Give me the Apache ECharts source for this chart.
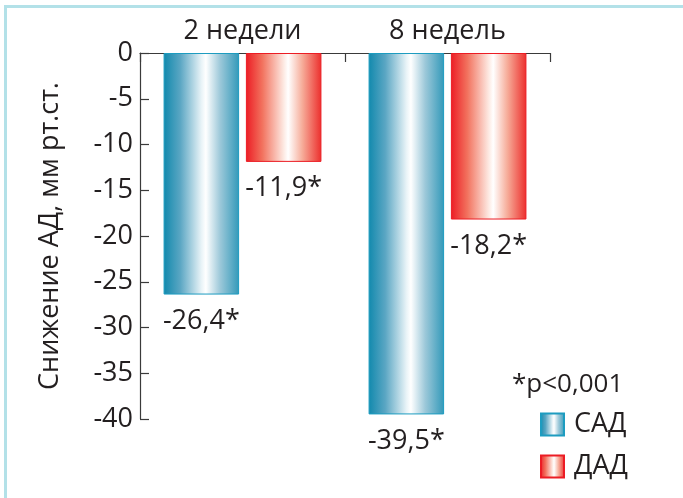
<!DOCTYPE html>
<html>
<head>
<meta charset="utf-8">
<script src="https://cdn.jsdelivr.net/npm/echarts@6/dist/echarts.min.js"></script>
<style>
html,body{margin:0;padding:0;background:#fff;}
#c{width:683px;height:498px;}
</style>
</head>
<body>
<div id="c"></div>
<script>
const categories = ['2 недели', '8 недель'];
const sadValues = [-26.4, -39.5];
const dadValues = [-11.9, -18.2];
const seriesNames = ['САД', 'ДАД'];
const yTicks = { min: -40, max: 0, interval: 5 };
const note = '*p<0,001';
const yName = 'Снижение АД, мм рт.ст.';

const FONT = 'Open Sans';
const TXT = '#231f20';

const blueGrad = new echarts.graphic.LinearGradient(0, 0, 1, 0, [
  { offset: 0, color: '#1189ad' },
  { offset: 0.22, color: '#5aa6c3' },
  { offset: 0.5, color: '#e8f3f7' },
  { offset: 0.56, color: '#ffffff' },
  { offset: 0.75, color: '#9cc8d9' },
  { offset: 1, color: '#3299b9' }
]);
const redGrad = new echarts.graphic.LinearGradient(0, 0, 1, 0, [
  { offset: 0, color: '#ec1c24' },
  { offset: 0.22, color: '#f2735f' },
  { offset: 0.5, color: '#fde9e2' },
  { offset: 0.56, color: '#ffffff' },
  { offset: 0.75, color: '#f6ab98' },
  { offset: 1, color: '#ec2e2c' }
]);

const fmt = p => p.value.toFixed(1).replace('.', ',') + '*';

const chart = echarts.init(document.getElementById('c'), null, { renderer: 'canvas' });
chart.setOption({
  animation: false,
  textStyle: { fontFamily: FONT, color: TXT },
  grid: { left: 140, right: 133, top: 53, bottom: 79, containLabel: false },
  xAxis: {
    type: 'category',
    position: 'top',
    data: categories,
    axisLine: { show: true, onZero: false, lineStyle: { color: '#3a3a3a', width: 1.2 } },
    axisTick: { show: true, inside: true, length: 9, lineStyle: { color: '#3a3a3a', width: 1.2 } },
    axisLabel: { fontSize: 27, fontFamily: FONT, color: TXT, margin: 8 }
  },
  yAxis: {
    type: 'value',
    min: yTicks.min, max: yTicks.max, interval: yTicks.interval,
    name: yName,
    nameLocation: 'middle',
    nameGap: 76,
    nameTextStyle: { fontSize: 27, fontFamily: FONT, color: TXT },
    axisLine: { show: true, lineStyle: { color: '#3a3a3a', width: 1.2 } },
    axisTick: { show: true, inside: true, length: 9, lineStyle: { color: '#3a3a3a', width: 1.2 } },
    axisLabel: { fontSize: 27, fontFamily: FONT, color: TXT, margin: 7 },
    splitLine: { show: false }
  },
  legend: {
    data: seriesNames,
    orient: 'vertical',
    left: 535, top: 406,
    itemWidth: 23, itemHeight: 22, itemGap: 15,
    icon: 'rect',
    textStyle: { fontSize: 27, fontFamily: FONT, color: TXT, padding: [0, 0, 0, 5] }
  },
  graphic: [
    { type: 'line', shape: { x1: 4, y1: 6.5, x2: 683, y2: 6.5 }, style: { stroke: '#b3e1e8', lineWidth: 3 } },
    { type: 'line', shape: { x1: 5.5, y1: 5, x2: 5.5, y2: 498 }, style: { stroke: '#b3e1e8', lineWidth: 3 } },
    { type: 'text', left: 512, top: 372, style: { text: note, fontSize: 26, fontFamily: FONT, fill: TXT } }
  ],
  series: [
    {
      name: seriesNames[0], type: 'bar', data: sadValues,
      barCategoryGap: '23%', barGap: '9%',
      itemStyle: { color: blueGrad, borderColor: '#1d9cc0', borderWidth: 1 },
      label: { show: true, position: 'bottom', distance: 13, formatter: fmt, fontSize: 27, fontFamily: FONT, color: TXT }
    },
    {
      name: seriesNames[1], type: 'bar', data: dadValues,
      barCategoryGap: '23%', barGap: '9%',
      itemStyle: { color: redGrad, borderColor: '#ec1c24', borderWidth: 1 },
      label: { show: true, position: 'bottom', distance: 13, formatter: fmt, fontSize: 27, fontFamily: FONT, color: TXT }
    }
  ]
});
</script>
</body>
</html>
